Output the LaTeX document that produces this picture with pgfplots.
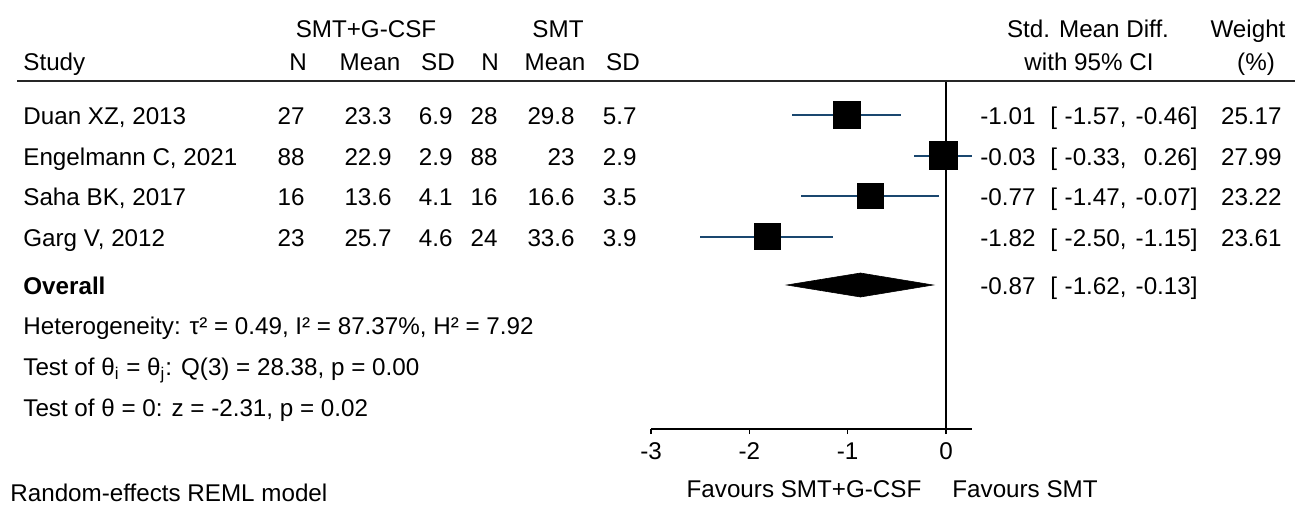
\documentclass[border=0pt]{standalone}
\usepackage{fontspec}
\setmainfont{Liberation Sans}
\usepackage{pgfplots}
\usepackage{pgfplotstable}
\pgfplotsset{compat=1.18}
\definecolor{statanavy}{RGB}{26,71,111}
% y = minus the row's vertical position (px), es = std. mean diff., lo/hi = 95% CI, w = weight
\pgfplotstableread{
y es lo hi w
-115 -1.01 -1.57 -0.46 25.17
-155.5 -0.03 -0.33 0.26 27.99
-196 -0.77 -1.47 -0.07 23.22
-236.5 -1.82 -2.50 -1.15 23.61
}\studies
\pgfplotstableread{
x y
-1.62 -285
-0.87 -273
-0.13 -285
-0.87 -297
}\overall
\begin{document}
\fontsize{12.1}{14}\selectfont
\begin{tikzpicture}
\useasboundingbox (0pt,0pt) rectangle (647.5pt,-252pt);
\begin{axis}[
  at={(325.5pt,-214.5pt)}, anchor=south west,
  x=49.17pt, y=0.5pt,
  xmin=-3, xmax=0.26, ymin=-429, ymax=-81,
  axis x line*=bottom, axis y line=none,
  axis line style={line width=0.65pt, black},
  xtick={-3,-2,-1,0},
  tick align=outside, major tick length=2.5pt,
  tick style={line width=0.65pt, black},
  xticklabel style={font=\fontsize{12.1}{14}\selectfont},
  /pgf/number format/assume math mode=true,
  clip=false,
]
\draw[line width=0.8pt, black] (axis cs:0,-81) -- (axis cs:0,-429);
\addplot[only marks, mark=none, forget plot,
  error bars/.cd, x dir=both, x explicit, error mark=none,
  error bar style={line width=1pt, draw=statanavy}]
  table[x=es, y=y,
        x error plus expr=\thisrow{hi}-\thisrow{es},
        x error minus expr=\thisrow{es}-\thisrow{lo}]{\studies};
\addplot[scatter, only marks, mark=square*, forget plot,
  scatter/use mapped color={draw=black, fill=black},
  point meta=\thisrow{w},
  visualization depends on={1.325*sqrt(\thisrow{w}) \as \msz},
  scatter/@pre marker code/.append style={/tikz/mark size=\msz, /tikz/line width=0.1pt}]
  table[x=es, y=y]{\studies};
\addplot[fill=black, draw=black, line width=0.3pt, forget plot]
  table[x=x, y=y]{\overall} -- cycle;
\end{axis}
\begin{scope}[x=0.5pt, y=-0.5pt, every node/.style={inner sep=0pt}]
\draw[line width=1pt, black!85] (17,81) -- (1295,81);
% header
\node[anchor=base] at (366,37) {SMT+G-CSF};
\node[anchor=base] at (558,37) {SMT};
\node[anchor=base] at (1088,37) {Std. Mean Diff.};
\node[anchor=base] at (1248,37) {Weight};
\node[anchor=base west] at (23,70.5) {Study};
\node[anchor=base] at (298,70.5) {N};
\node[anchor=base] at (370,70.5) {Mean};
\node[anchor=base] at (438,70.5) {SD};
\node[anchor=base] at (490,70.5) {N};
\node[anchor=base] at (555,70.5) {Mean};
\node[anchor=base] at (623,70.5) {SD};
\node[anchor=base] at (1089,70.5) {with 95\% CI};
\node[anchor=base] at (1256,70.5) {(\%)};
% rows
\foreach \b/\name/\na/\ma/\sa/\nb/\mb/\sb/\es/\lo/\hi/\w in {
  124.5/{Duan XZ, 2013}/27/23.3/6.9/28/29.8/5.7/-1.01/-1.57/-0.46/25.17,
  165/{Engelmann C, 2021}/88/22.9/2.9/88/23/2.9/-0.03/-0.33/0.26/27.99,
  205.5/{Saha BK, 2017}/16/13.6/4.1/16/16.6/3.5/-0.77/-1.47/-0.07/23.22,
  246/{Garg V, 2012}/23/25.7/4.6/24/33.6/3.9/-1.82/-2.50/-1.15/23.61}{
  \node[anchor=base west] at (23,\b) {\name};
  \node[anchor=base east] at (305,\b) {\na};
  \node[anchor=base east] at (392,\b) {\ma};
  \node[anchor=base east] at (453,\b) {\sa};
  \node[anchor=base east] at (498,\b) {\nb};
  \node[anchor=base east] at (575,\b) {\mb};
  \node[anchor=base east] at (637,\b) {\sb};
  \node[anchor=base west] at (980,\b) {\es};
  \node[anchor=base west] at (1050,\b) {[};
  \node[anchor=base east] at (1127,\b) {\lo,};
  \node[anchor=base east] at (1198,\b) {\hi]};
  \node[anchor=base east] at (1282,\b) {\w};
}
% overall
\node[anchor=base west] at (23,294.5) {\textbf{Overall}};
\node[anchor=base west] at (980,294.5) {-0.87};
\node[anchor=base west] at (1050,294.5) {[};
\node[anchor=base east] at (1127,294.5) {-1.62,};
\node[anchor=base east] at (1198,294.5) {-0.13]};
\node[anchor=base west] at (23,334) {Heterogeneity: τ² = 0.49, I² = 87.37\%, H² = 7.92};
\node[anchor=base west] at (23,375) {Test of θ\textsubscript{i} = θ\textsubscript{j}: Q(3) = 28.38, p = 0.00};
\node[anchor=base west] at (23,416) {Test of θ = 0: z = -2.31, p = 0.02};
\node[anchor=base west] at (10,501) {Random-effects REML model};
\node[anchor=base] at (804,497) {Favours SMT+G-CSF};
\node[anchor=base west] at (952,497) {Favours SMT};
\end{scope}
\end{tikzpicture}
\end{document}
